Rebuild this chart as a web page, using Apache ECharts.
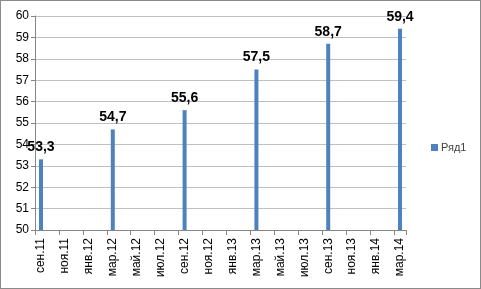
<!DOCTYPE html>
<html><head><meta charset="utf-8">
<script src="https://cdn.jsdelivr.net/npm/echarts@6/dist/echarts.min.js"></script>
<style>html,body{margin:0;padding:0;background:#fff}#c{width:481px;height:289px;box-sizing:border-box;border:1px solid #8a8a8a}</style>
</head><body><div id="c"></div>
<script>
var categories = ['сен.11','окт.11','ноя.11','дек.11','янв.12','фев.12','мар.12','апр.12','май.12','июн.12','июл.12','авг.12','сен.12','окт.12','ноя.12','дек.12','янв.13','фев.13','мар.13','апр.13','май.13','июн.13','июл.13','авг.13','сен.13','окт.13','ноя.13','дек.13','янв.14','фев.14','мар.14'];
var seriesName = 'Ряд1';
var values = [53.3,null,null,null,null,null,54.7,null,null,null,null,null,55.6,null,null,null,null,null,57.5,null,null,null,null,null,58.7,null,null,null,null,null,59.4];
var yTicks = {min:50, max:60, interval:1};
var font = '"Liberation Sans", Arial, sans-serif';
var chart = echarts.init(document.getElementById('c'), null, {renderer:'canvas'});
chart.setOption({
  animation:false,
  grid:{left:34, right:74, top:15, bottom:58, containLabel:false},
  legend:{show:true, data:[seriesName], orient:'vertical', left:425, top:136, itemWidth:7, itemHeight:7, itemGap:4, icon:'rect',
    textStyle:{fontFamily:font, fontSize:11, color:'#404040', padding:[0,0,0,-2]}},
  xAxis:{type:'category', data:categories, boundaryGap:true,
    axisLine:{lineStyle:{color:'#868686', width:1}},
    axisTick:{show:true, interval:1, length:5, lineStyle:{color:'#868686'}},
    axisLabel:{interval:1, rotate:90, fontFamily:font, fontSize:12, color:'#000', margin:8}},
  yAxis:{type:'value', min:yTicks.min, max:yTicks.max, interval:yTicks.interval,
    axisLine:{show:true, lineStyle:{color:'#868686'}},
    axisTick:{show:true, length:4, lineStyle:{color:'#868686'}},
    splitLine:{lineStyle:{color:'#c0c0c0', width:1}},
    axisLabel:{fontFamily:font, fontSize:12, color:'#000', margin:6}},
  series:[{name:seriesName, type:'bar', data:values, barWidth:4, itemStyle:{color:'#4f81bd'},
    label:{show:true, position:'top', distance:5, fontFamily:font, fontSize:14, fontWeight:'bold', color:'#000',
      formatter:function(p){return p.value==null?'':String(p.value).replace('.',',');}}}]
});
</script></body></html>
